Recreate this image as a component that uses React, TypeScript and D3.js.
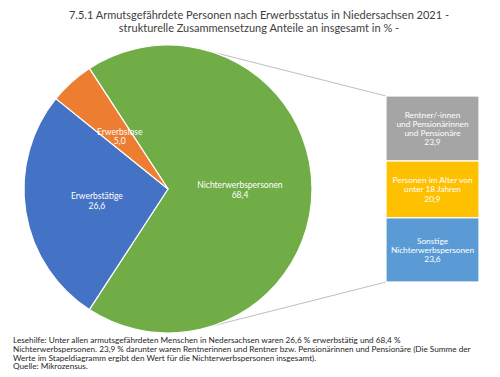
import React from "react";
import * as d3 from "d3";

const titleLines = [
  "7.5.1 Armutsgefährdete Personen nach Erwerbsstatus in Niedersachsen 2021 -",
  "strukturelle Zusammensetzung Anteile an insgesamt in % -",
];

const pieCategories = ["Nichterwerbspersonen", "Erwerbstätige", "Erwerbslose"];
const pieValues = [68.4, 26.6, 5.0];
const pieColors = ["#70AD47", "#4472C4", "#ED7D31"];

const barCategories = [
  ["Rentner/-innen", "und Pensionärinnen", "und Pensionäre"],
  ["Personen im Alter von", "unter 18 Jahren"],
  ["Sonstige", "Nichterwerbspersonen"],
];
const barValues = [23.9, 20.9, 23.6];
const barColors = ["#A5A5A5", "#FFC000", "#5B9BD5"];

const footLines = [
  "Lesehilfe: Unter allen armutsgefährdeten Menschen in Nedersachsen waren 26,6 % erwerbstätig und 68,4 %",
  "Nichterwerbspersonen. 23,9 % darunter waren Rentnerinnen und Rentner bzw. Pensionärinnen und Pensionäre (Die Summe der",
  "Werte im Stapeldiagramm ergibt den Wert für die Nichterwerbspersonen insgesamt).",
  "Quelle: Mikrozensus.",
];

const fmt = (v: number) => v.toFixed(1).replace(".", ",");
const FONT = "Lato, 'Open Sans', sans-serif";

export default function App() {
  const W = 500, H = 377;
  const cx = 168, cy = 189, r = 144;
  const greenFrac = pieValues[0] / d3.sum(pieValues);
  const start = Math.PI / 2 - greenFrac * Math.PI;
  const pie = d3.pie<number>().sort(null).startAngle(start).endAngle(start + 2 * Math.PI);
  const arcs = pie(pieValues);
  const arc = d3.arc<d3.PieArcDatum<number>>().innerRadius(0).outerRadius(r);
  const labelArc = d3.arc<d3.PieArcDatum<number>>().innerRadius(r * 0.5).outerRadius(r * 0.5);

  const barX0 = 386, barX1 = 479;
  const total = d3.sum(barValues);
  const y = d3.scaleLinear().domain([0, total]).range([96, 282]);
  const cum = barValues.map((_, i) => d3.sum(barValues.slice(0, i)));

  const topAng = (18 * Math.PI) / 180;
  const botAng = (162 * Math.PI) / 180;
  const pTop = [cx + r * Math.sin(topAng), cy - r * Math.cos(topAng)];
  const pBot = [cx + r * Math.sin(botAng), cy - r * Math.cos(botAng)];

  return (
    <svg width={W} height={H} style={{ position: "absolute", left: 0, top: 0, background: "#fff" }} fontFamily={FONT}>
      <rect x={0} y={0} width={W} height={H} fill="#fff" />
      {titleLines.map((t, i) => (
        <text key={i} x={259} y={19 + i * 12.5} textAnchor="middle" fontSize={11} fill="#404040">{t}</text>
      ))}
      <line x1={pTop[0]} y1={pTop[1]} x2={barX0} y2={y(0)} stroke="#BFBFBF" strokeWidth={1} />
      <line x1={pBot[0]} y1={pBot[1]} x2={barX0} y2={y(total)} stroke="#BFBFBF" strokeWidth={1} />
      <g transform={`translate(${cx},${cy})`}>
        {arcs.map((a, i) => (
          <path key={i} d={arc(a) || ""} fill={pieColors[i]} stroke="#fff" strokeWidth={1.2} />
        ))}
        {arcs.map((a, i) => {
          const [lx, ly] = labelArc.centroid(a);
          return (
            <text key={i} x={lx} y={ly} textAnchor="middle" fontSize={8.5} fill="#fff">
              <tspan x={lx} dy={-1}>{pieCategories[i]}</tspan>
              <tspan x={lx} dy={9.5}>{fmt(pieValues[i])}</tspan>
            </text>
          );
        })}
      </g>
      {barValues.map((v, i) => {
        const y0 = y(cum[i]), y1 = y(cum[i] + v);
        const lines = [...barCategories[i], fmt(v)];
        const lh = 9.3;
        const mid = (y0 + y1) / 2;
        const first = mid - ((lines.length - 1) * lh) / 2 + 3;
        return (
          <g key={i}>
            <rect x={barX0} y={y0} width={barX1 - barX0} height={y1 - y0} fill={barColors[i]} stroke="#fff" strokeWidth={1.2} />
            {lines.map((l, j) => (
              <text key={j} x={(barX0 + barX1) / 2} y={first + j * lh} textAnchor="middle" fontSize={8.3} fill="#fff">{l}</text>
            ))}
          </g>
        );
      })}
      {footLines.map((t, i) => (
        <text key={i} x={13} y={343 + i * 8.8} fontSize={8.2} fill="#262626">{t}</text>
      ))}
    </svg>
  );
}
